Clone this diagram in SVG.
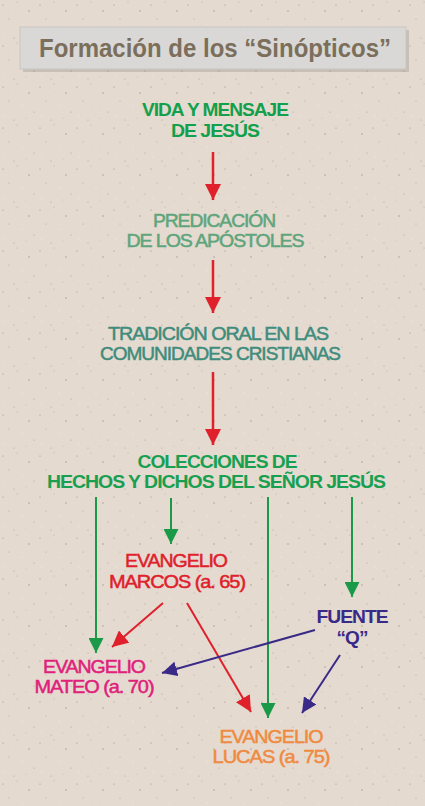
<svg xmlns="http://www.w3.org/2000/svg" width="425" height="806" viewBox="0 0 425 806">
<defs>
<pattern id="speck" width="37" height="41" patternUnits="userSpaceOnUse">
<circle cx="3" cy="5" r="0.6" fill="#6a5240" opacity="0.55"/>
<circle cx="17" cy="2" r="0.5" fill="#8a6a50" opacity="0.5"/>
<circle cx="29" cy="11" r="0.7" fill="#5a4030" opacity="0.45"/>
<circle cx="9" cy="19" r="0.5" fill="#7a5a45" opacity="0.5"/>
<circle cx="22" cy="24" r="0.6" fill="#fff" opacity="0.6"/>
<circle cx="34" cy="30" r="0.5" fill="#6a5240" opacity="0.5"/>
<circle cx="5" cy="34" r="0.6" fill="#fff" opacity="0.5"/>
<circle cx="14" cy="38" r="0.5" fill="#5a4030" opacity="0.45"/>
<circle cx="26" cy="36" r="0.4" fill="#8a6a50" opacity="0.5"/>
<circle cx="12" cy="10" r="0.4" fill="#fff" opacity="0.6"/>
</pattern>
<marker id="ar" viewBox="0 0 10 10" refX="10" refY="5" markerWidth="16" markerHeight="16" markerUnits="userSpaceOnUse" orient="auto"><path d="M0,0 L10,5 L0,10 Z" fill="#e0202a"/></marker>
<marker id="ag" viewBox="0 0 10 10" refX="10" refY="5" markerWidth="15" markerHeight="15" markerUnits="userSpaceOnUse" orient="auto"><path d="M0,0 L10,5 L0,10 Z" fill="#1a9a48"/></marker>
<marker id="ab" viewBox="0 0 10 10" refX="10" refY="5" markerWidth="15" markerHeight="15" markerUnits="userSpaceOnUse" orient="auto"><path d="M0,0 L10,5 L0,10 Z" fill="#3a2a88"/></marker>
</defs>
<style>
text{font-family:"Liberation Sans",Arial,sans-serif;text-anchor:middle;font-size:19px;letter-spacing:-1px;stroke-width:0.5px}
.b{font-weight:bold;stroke-width:0}
.s{font-size:18px}
.title{font-size:25px;font-weight:bold;fill:#7b6f5c;letter-spacing:0;stroke-width:0}
.red{stroke:#e0202a;stroke-width:2.5;fill:none}
.grn{stroke:#1a9a48;stroke-width:2;fill:none}
.blu{stroke:#3a2a88;stroke-width:2;fill:none}
</style>
<rect width="425" height="806" fill="#e4dad0"/>
<rect width="425" height="806" fill="url(#speck)"/>
<g id="title">
<rect x="21" y="28" width="386" height="42" fill="#000" opacity="0.12" transform="translate(2,2)"/>
<rect x="20" y="27" width="386" height="42" fill="#d9d8d6" stroke="#c8c6c2" stroke-width="1"/>
<text class="title" x="215" y="57" textLength="352" lengthAdjust="spacingAndGlyphs">Formación de los “Sinópticos”</text>
</g>
<g id="connectors">
<line class="red" x1="213" y1="152" x2="213" y2="200" marker-end="url(#ar)"/>
<line class="red" x1="213" y1="260" x2="213" y2="313" marker-end="url(#ar)"/>
<line class="red" x1="213" y1="372" x2="213" y2="445" marker-end="url(#ar)"/>
<line class="grn" x1="96" y1="497" x2="96" y2="653" marker-end="url(#ag)"/>
<line class="grn" x1="171" y1="498" x2="171" y2="544" marker-end="url(#ag)"/>
<line class="grn" x1="268" y1="497" x2="268" y2="718" marker-end="url(#ag)"/>
<line class="grn" x1="352" y1="497" x2="352" y2="597" marker-end="url(#ag)"/>
<line class="red" x1="163" y1="603" x2="112" y2="647" marker-end="url(#ar)" style="stroke-width:2"/>
<line class="red" x1="187" y1="603" x2="251" y2="712" marker-end="url(#ar)" style="stroke-width:2"/>
<line class="blu" x1="315" y1="630" x2="162" y2="673" marker-end="url(#ab)"/>
<line class="blu" x1="340" y1="655" x2="302" y2="713" marker-end="url(#ab)"/>
</g>
<g id="vida" fill="#12a04c">
<text class="b" x="215" y="116" textLength="146" lengthAdjust="spacingAndGlyphs">VIDA Y MENSAJE</text>
<text class="b" x="215" y="137" textLength="88" lengthAdjust="spacingAndGlyphs">DE JESÚS</text>
</g>
<g id="predicacion" fill="#5fa57c" stroke="#5fa57c">
<text class="s" x="214" y="227" textLength="122" lengthAdjust="spacingAndGlyphs">PREDICACIÓN</text>
<text class="s" x="215" y="247" textLength="177" lengthAdjust="spacingAndGlyphs">DE LOS APÓSTOLES</text>
</g>
<g id="tradicion" fill="#3f8c7c" stroke="#3f8c7c">
<text x="218" y="340" textLength="220" lengthAdjust="spacingAndGlyphs">TRADICIÓN ORAL EN LAS</text>
<text x="220" y="360" textLength="240" lengthAdjust="spacingAndGlyphs">COMUNIDADES CRISTIANAS</text>
</g>
<g id="colecciones" fill="#18a050">
<text class="b" x="217" y="468" textLength="159" lengthAdjust="spacingAndGlyphs">COLECCIONES DE</text>
<text class="b" x="216" y="488" textLength="338" lengthAdjust="spacingAndGlyphs">HECHOS Y DICHOS DEL SEÑOR JESÚS</text>
</g>
<g id="marcos" fill="#e0202a" stroke="#e0202a">
<text x="176" y="567" textLength="102" lengthAdjust="spacingAndGlyphs">EVANGELIO</text>
<text x="177" y="588" textLength="136" lengthAdjust="spacingAndGlyphs">MARCOS (a. 65)</text>
</g>
<g id="fuente" fill="#3a2a88">
<text class="b" x="352" y="623" textLength="71" lengthAdjust="spacingAndGlyphs">FUENTE</text>
<text class="b" x="352" y="644">“Q”</text>
</g>
<g id="mateo" fill="#e0207a" stroke="#e0207a">
<text x="94" y="673" textLength="102" lengthAdjust="spacingAndGlyphs">EVANGELIO</text>
<text x="94" y="693" textLength="119" lengthAdjust="spacingAndGlyphs">MATEO (a. 70)</text>
</g>
<g id="lucas" fill="#f08a40" stroke="#f08a40">
<text x="271" y="743" textLength="103" lengthAdjust="spacingAndGlyphs">EVANGELIO</text>
<text x="271" y="763" textLength="117" lengthAdjust="spacingAndGlyphs">LUCAS (a. 75)</text>
</g>
</svg>
